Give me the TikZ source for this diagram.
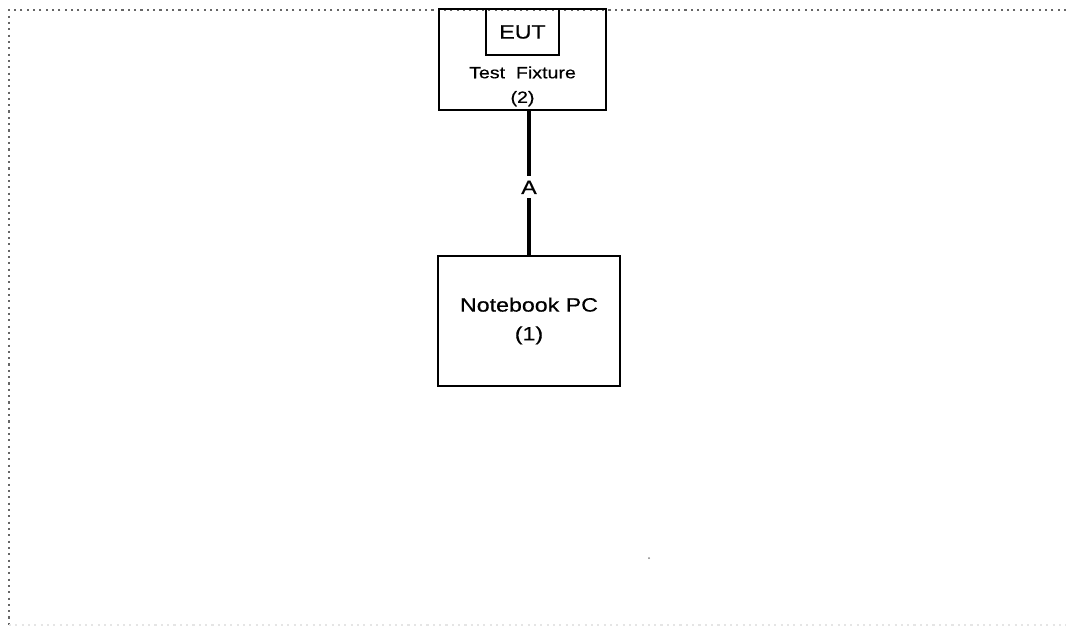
\documentclass[tikz,border=0pt]{standalone}
\usepackage{fontspec}
\setmainfont[FakeStretch=1.2, FakeBold=0.5]{Liberation Sans}
\usepackage{tikz}
\usetikzlibrary{positioning}

\tikzset{
    box/.style={draw, line width=1.4pt, inner sep=0pt, align=center},
    rim/.style={color=black!60, line width=1.3pt, dash pattern=on 1.2pt off 2.4pt},
}

\begin{document}
\begin{tikzpicture}[x=0.02cm, y=-0.02cm]
    \useasboundingbox (0,0) rectangle (1066,629);
    % dotted frame
    \draw[rim] (1066,10) -- (9,10) -- (9,625);
    \draw[rim, color=gray!20] (9,625) -- (1066,625);
    % boxes
    \node[box, minimum width=3.34cm, minimum height=2.02cm] (fixture) at (522.5,59.5) {};
    \node[box, minimum width=1.46cm, minimum height=0.92cm, anchor=north,
          font=\fontsize{11}{13}\selectfont] (eut) at (fixture.north) {EUT};
    \node[align=center, font=\fontsize{9.3}{14}\selectfont, below=0.08cm of eut] (fixturetext) {Test\ \ Fixture\\(2)};
    \node[box, minimum width=3.64cm, minimum height=2.6cm,
          font=\fontsize{11}{16.4}\selectfont] (notebook) at (529,321) {Notebook PC\\(1)};
    % cable
	\draw[line width=1.9pt] (notebook.north) -- (notebook.north |- fixture.south)
        node[pos=0.47, fill=white, inner sep=2.5pt, font=\fontsize{11}{13}\selectfont] (cableA) {A};
    \fill[gray] (649,558) circle (0.02cm);
\end{tikzpicture}
\end{document}
